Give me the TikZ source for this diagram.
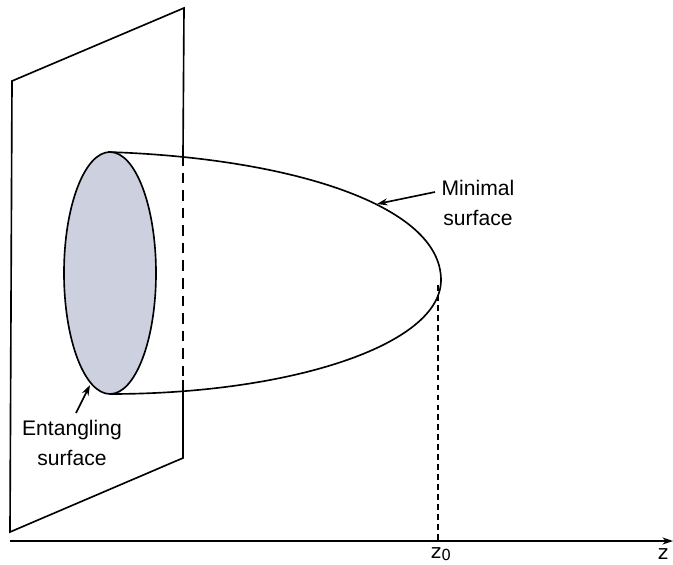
\documentclass[tikz,border=0pt]{standalone}
\usepackage{xcolor}
\usepackage{fontspec}
\setmainfont{Liberation Sans}
\newfontfamily\axisfont{DejaVu Sans}
\usetikzlibrary{arrows.meta, positioning}
\definecolor{discfill}{HTML}{CDD0DF}
\tikzset{axislabel/.style={font=\axisfont\fontsize{17}{19}\selectfont, inner sep=0pt}}

\begin{document}
\begin{tikzpicture}[x=0.03cm, y=-0.03cm, >={Stealth[length=9pt, width=6pt]}, line width=1.4pt, font=\fontsize{18}{26}\selectfont]
  \useasboundingbox (0,0) rectangle (673,565);

  % Plane
  \coordinate (p1) at (12,81);
  \coordinate (p2) at (184,8);
  \coordinate (p3) at (183,155);
  \coordinate (p4) at (183,380);
  \coordinate (p5) at (183,458);
  \coordinate (p6) at (10,532);
  \draw (p3) -- (p2) -- (p1) -- (p6) -- (p5) -- (p4);
  \draw[dash pattern=on 9pt off 6pt] (p3) -- (p4);

  % Disc
  \draw[fill=discfill] (110,273) ellipse (46 and 121);

  % Bulk surface
  \coordinate (top) at (108,152);
  \coordinate (bot) at (110,394);
  \coordinate (tip) at (441,280);
  \draw (top) .. controls (290,158) and (441,205) .. (tip);
  \draw (tip) .. controls (441,345) and (290,394) .. (bot);

  % Axis
  \coordinate (z0top) at (438,285);
  \coordinate (z0bot) at (438,541);
  \coordinate (axisL) at (10,541);
  \coordinate (axisR) at (673,541);
  \draw[->] (axisL) -- (axisR);
  \draw[dash pattern=on 5pt off 3.5pt] (z0top) -- (z0bot);
  \node[axislabel] (z0) at (441,554) {z\raisebox{-2pt}{\fontsize{13}{13}\selectfont 0}};
  \node[axislabel] (zlabel) at (663,554) {z};

  % Labels
  \node[align=center, inner sep=0pt] (entangling) at (72,443) {Entangling\\surface};
  \node[align=center, inner sep=0pt] (minimal) at (478,203) {Minimal\\surface};
  \coordinate (enttip) at (90,385);
  \coordinate (minitip) at (377,204);
  \coordinate (entfoot) at (76,413);
  \coordinate (minifoot) at (435,192);
  \draw[->] (entfoot) -- (enttip);
  \draw[->] (minifoot) -- (minitip);
\end{tikzpicture}
\end{document}
